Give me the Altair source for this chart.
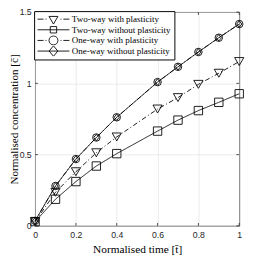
import altair as alt
import pandas as pd

# ---- data ----
t = [0, 0.1, 0.2, 0.3, 0.4, 0.6, 0.7, 0.8, 0.9, 1.0]
two_way_plastic = [0.03, 0.236, 0.38, 0.513, 0.624, 0.82, 0.90, 0.993, 1.071, 1.153]
two_way_elastic = [0.03, 0.187, 0.311, 0.42, 0.507, 0.665, 0.742, 0.809, 0.867, 0.927]
one_way_plastic = [0.035, 0.28, 0.469, 0.62, 0.762, 1.009, 1.116, 1.22, 1.32, 1.416]
one_way_elastic = [0.035, 0.28, 0.469, 0.62, 0.762, 1.009, 1.116, 1.22, 1.32, 1.416]

series_names = [
    "Two-way with plasticity",
    "Two-way without plasticity",
    "One-way with plasticity",
    "One-way without plasticity",
]
series_values = [two_way_plastic, two_way_elastic, one_way_plastic, one_way_elastic]

x_ticks = [0, 0.2, 0.4, 0.6, 0.8, 1]
y_ticks = [0, 0.5, 1, 1.5]

# ---- styles ----
W, H = 211, 221
marker_shapes = ["triangle-down", "square", "circle", "M-0.8,0L0,-1L0.8,0L0,1Z"]
marker_sizes = [90, 45, 75, 130]
dash_dot = [5, 2.5, 1, 2.5]
dashes = [dash_dot, [1, 0], dash_dot, [1, 0]]

dd_line = "M-1,0H-0.62M-0.5,0H-0.44M0.44,0H0.5M0.62,0H1"
solid_line = "M-1,0H1"
legend_paths = [
    dd_line + "M-0.28,-0.17L0.28,-0.17L0,0.31Z",
    solid_line + "M-0.2,-0.2H0.2V0.2H-0.2Z",
    dd_line + "M0.28,0A0.28,0.28 0 1,1 -0.28,0A0.28,0.28 0 1,1 0.28,0Z",
    solid_line + "M-0.27,0L0,-0.33L0.27,0L0,0.33Z",
]

rows = []
for name, vals in zip(series_names, series_values):
    for ti, v in zip(t, vals):
        rows.append({"t": ti, "c": v, "series": name})
df = pd.DataFrame(rows)
xt = pd.DataFrame({"t": x_ticks})
yt = pd.DataFrame({"c": y_ticks})

serif = "Liberation Serif"
sans = "Liberation Sans"

x_scale = alt.Scale(domain=[0, 1], nice=False, zero=False)
y_scale = alt.Scale(domain=[0, 1.5], nice=False, zero=False)

x_enc = alt.X(
    "t:Q",
    scale=x_scale,
    axis=alt.Axis(
        values=x_ticks, format="~g", grid=True, gridColor="#e2e2e2", gridWidth=0.7,
        domain=False, ticks=False, labelFont=sans, labelFontSize=9,
        labelColor="#262626", labelPadding=5, labelFlush=False, labelOverlap=False,
        title="Normalised time [t\u0304]", titleFont=serif, titleFontSize=11.7,
        titleFontWeight="normal", titleColor="#000000", titlePadding=5,
    ),
)
y_enc = alt.Y(
    "c:Q",
    scale=y_scale,
    axis=alt.Axis(
        values=y_ticks, format="~g", grid=True, gridColor="#e2e2e2", gridWidth=0.7,
        domain=False, ticks=False, labelFont=sans, labelFontSize=9,
        labelColor="#262626", labelPadding=4, labelFlush=False, labelOverlap=False,
        title="Normalised concentration [c\u0304]", titleFont=serif, titleFontSize=11.5,
        titleFontWeight="normal", titleColor="#000000", titlePadding=0,
    ),
)

lines = alt.Chart(df).mark_line(color="black", strokeWidth=0.9).encode(
    x=x_enc,
    y=y_enc,
    strokeDash=alt.StrokeDash("series:N", scale=alt.Scale(domain=series_names, range=dashes), legend=None),
    detail="series:N",
)

points = alt.Chart(df).mark_point(filled=False, color="black", strokeWidth=0.9, opacity=1).encode(
    x=alt.X("t:Q"),
    y=alt.Y("c:Q"),
    shape=alt.Shape("series:N", scale=alt.Scale(domain=series_names, range=marker_shapes), legend=None),
    size=alt.Size("series:N", scale=alt.Scale(domain=series_names, range=marker_sizes), legend=None),
)

# inward tick marks on all four sides (box style)
tick_style = dict(color="#262626", strokeWidth=0.8)
x_ticks_bottom = alt.Chart(xt).mark_rule(**tick_style).encode(
    x=alt.X("t:Q"), y=alt.value(H), y2=alt.value(H - 3))
x_ticks_top = alt.Chart(xt).mark_rule(**tick_style).encode(
    x=alt.X("t:Q"), y=alt.value(0), y2=alt.value(3))
y_ticks_left = alt.Chart(yt).mark_rule(**tick_style).encode(
    y=alt.Y("c:Q"), x=alt.value(0), x2=alt.value(3))
y_ticks_right = alt.Chart(yt).mark_rule(**tick_style).encode(
    y=alt.Y("c:Q"), x=alt.value(W), x2=alt.value(W - 3))

legend_layer = alt.Chart(df).transform_filter("datum.t > 5").mark_point(
    filled=False, color="black", strokeWidth=0.9, opacity=1
).encode(
    x=alt.X("t:Q"),
    y=alt.Y("c:Q"),
    shape=alt.Shape(
        "series:N",
        scale=alt.Scale(domain=series_names, range=legend_paths),
        legend=alt.Legend(
            title=None, orient="none", legendX=-1, legendY=-1,
            padding=3, strokeColor="black", fillColor="white",
            cornerRadius=0,
            symbolSize=1089, symbolStrokeColor="black", symbolStrokeWidth=0.9,
            symbolFillColor="transparent", symbolOpacity=1,
            labelFont=serif, labelFontSize=9.3, labelColor="#000000",
            labelOffset=2, rowPadding=0, clipHeight=10.6,
        ),
    ),
)

chart = (
    alt.layer(lines, points, x_ticks_bottom, x_ticks_top, y_ticks_left, y_ticks_right, legend_layer)
    .resolve_scale(shape="independent", size="independent")
    .properties(
        width=W, height=H,
        autosize=alt.AutoSizeParams(type="none"),
        padding={"left": 28, "top": 0, "right": 7, "bottom": 30},
        background="white",
    )
    .configure_view(stroke="#000000", strokeWidth=0.9)
)

chart.save("out.html", embed_options={"renderer": "svg", "actions": False})
